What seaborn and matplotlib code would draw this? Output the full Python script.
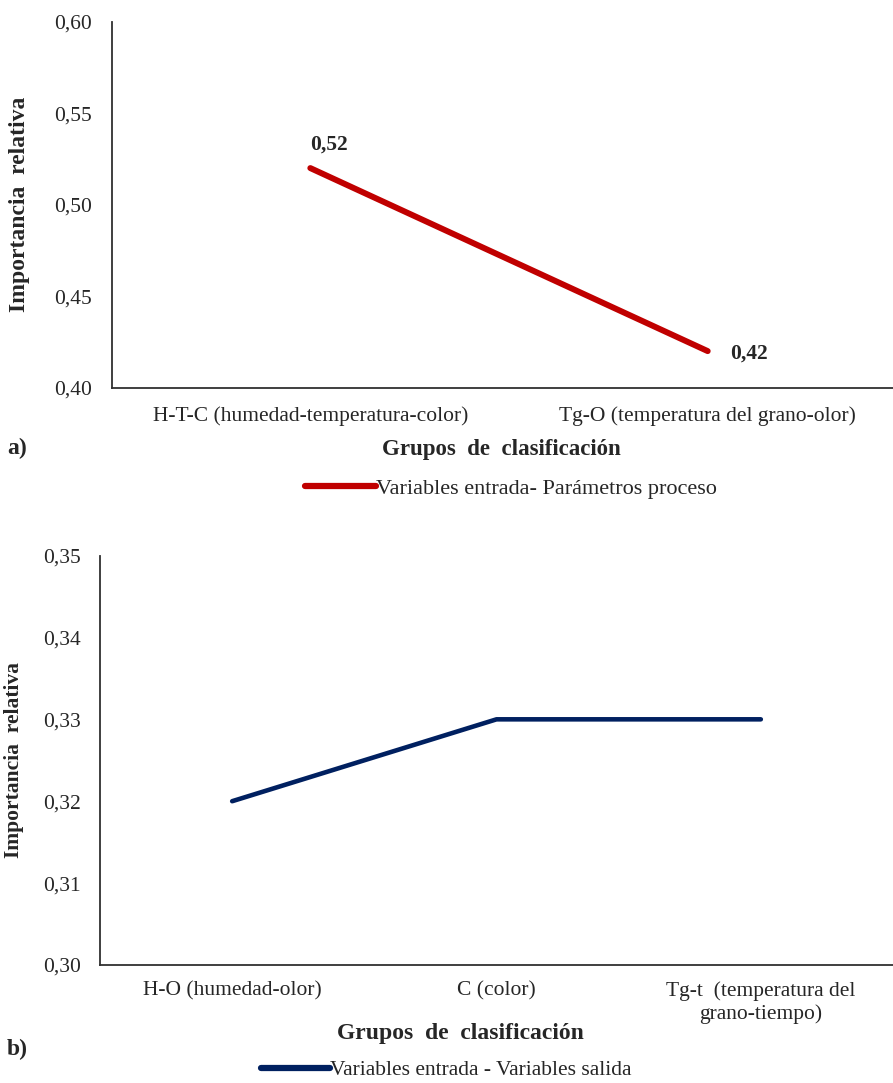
import pandas as pd
import matplotlib.pyplot as plt
import seaborn as sns
from matplotlib.ticker import FuncFormatter

# === Datos ===
grupos_a = ["H-T-C (humedad-temperatura-color)", "Tg-O (temperatura del grano-olor)"]
valores_a = [0.52, 0.42]
serie_a = "Variables entrada- Parámetros proceso"

grupos_b = ["H-O (humedad-olor)", "C (color)", "Tg-t  (temperatura del\ngrano-tiempo)"]
valores_b = [0.32, 0.33, 0.33]
serie_b = "Variables entrada - Variables salida"

df_a = pd.DataFrame({"Grupo": grupos_a, "Importancia": valores_a, "Serie": serie_a})
df_b = pd.DataFrame({"Grupo": grupos_b, "Importancia": valores_b, "Serie": serie_b})

sns.set_style("white")
plt.rcParams["font.family"] = ["Liberation Serif", "DejaVu Serif"]

coma = FuncFormatter(lambda v, p: f"{v:.2f}".replace(".", ","))

fig = plt.figure(figsize=(8.93, 10.83), dpi=100)
ax1 = fig.add_axes([0.125, 0.642, 0.89, 0.338])
ax2 = fig.add_axes([0.112, 0.109, 0.888, 0.378])


def estilo(ax, df, color, lw, ylim, yticks):
    sns.lineplot(data=df, x="Grupo", y="Importancia", hue="Serie",
                 palette=[color], linewidth=lw, ax=ax, sort=False)
    ax.set_xlim(-0.5, len(df) - 0.5)
    ax.set_ylim(*ylim)
    ax.set_yticks(yticks)
    ax.yaxis.set_major_formatter(coma)
    ax.tick_params(axis="both", length=0, labelsize=15.5)
    ax.tick_params(axis="y", pad=14)
    for s in ["top", "right"]:
        ax.spines[s].set_visible(False)
    for s in ["left", "bottom"]:
        ax.spines[s].set_color("#303030")
        ax.spines[s].set_linewidth(1.3)
    ax.get_legend().remove()


estilo(ax1, df_a, "#C00000", 4.3, (0.40, 0.60), [0.40, 0.45, 0.50, 0.55, 0.60])
estilo(ax2, df_b, "#002060", 3.3, (0.30, 0.35), [0.30, 0.31, 0.32, 0.33, 0.34, 0.35])
ax1.tick_params(axis="x", pad=13)
ax2.tick_params(axis="x", pad=12)

ax1.set_ylabel("Importancia  relativa", fontsize=17, fontweight="bold")
ax1.set_xlabel("Grupos  de  clasificación", fontsize=16.5, fontweight="bold")
ax2.set_ylabel("Importancia  relativa", fontsize=15.5, fontweight="bold")
ax2.set_xlabel("Grupos  de  clasificación", fontsize=17, fontweight="bold")

ax1.yaxis.set_label_coords(-0.103, 0.5)
ax1.xaxis.set_label_coords(0.49, -0.14)
ax2.yaxis.set_label_coords(-0.096, 0.5)
ax2.xaxis.set_label_coords(0.455, -0.143)

# etiquetas de datos (panel a)
ax1.annotate("0,52", (0, valores_a[0]), xytext=(0, 10), textcoords="offset points",
             fontsize=15.5, fontweight="bold", va="bottom")
ax1.annotate("0,42", (1, valores_a[1]), xytext=(16, -2), textcoords="offset points",
             fontsize=15.5, fontweight="bold", va="center")

fig.text(0.008, 0.586, "a)", fontsize=17, fontweight="bold", va="center")
fig.text(0.008, 0.031, "b)", fontsize=17, fontweight="bold", va="center")

h1, l1 = ax1.get_legend_handles_labels()
lg1 = fig.legend(h1, l1, loc="center", bbox_to_anchor=(0.572, 0.549), frameon=False,
                 fontsize=16, handlelength=3.2, handletextpad=0.0)
h2, l2 = ax2.get_legend_handles_labels()
lg2 = fig.legend(h2, l2, loc="center", bbox_to_anchor=(0.50, 0.012), frameon=False,
                 fontsize=15.5, handlelength=3.2, handletextpad=0.0, borderpad=0.1)
for lg in (lg1, lg2):
    for ln in lg.get_lines():
        ln.set_linewidth(4.5)

fig.savefig("out.png", dpi=100)
